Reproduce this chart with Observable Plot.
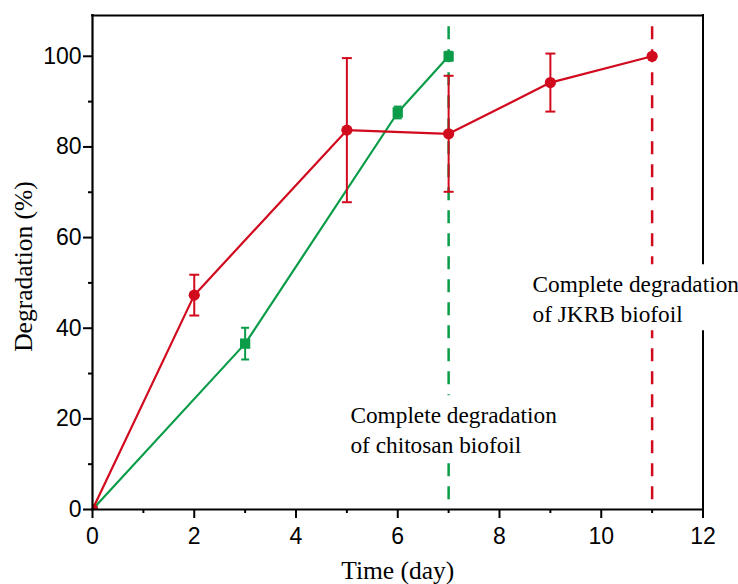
<!DOCTYPE html>
<html><head><meta charset="utf-8">
<script src="https://cdn.jsdelivr.net/npm/d3@7"></script>
<script src="https://cdn.jsdelivr.net/npm/@observablehq/plot@0.6"></script>
<style>body{margin:0;background:#fff}</style>
</head><body><div id="chart"></div>
<script>
// ---- data ----
const jkrbDays = [0, 2, 5, 7, 9, 11];
const jkrbValues = [0, 47.3, 83.7, 82.9, 94.2, 100];
const jkrbErrors = [0, 4.5, 15.9, 12.8, 6.4, 0];
const chitosanDays = [0, 3, 6, 7];
const chitosanValues = [0, 36.6, 87.6, 100];
const chitosanErrors = [0, 3.5, 1.3, 1.0];
const chitosanCompleteDay = [7];
const jkrbCompleteDay = [11];
const xTicks = [0, 2, 4, 6, 8, 10, 12];
const xMinorTicks = [1, 3, 5, 7, 9, 11];
const yTicks = [0, 20, 40, 60, 80, 100];
const yMinorTicks = [10, 30, 50, 70, 90];
const xLabel = "Time (day)";
const yLabel = "Degradation (%)";
const annotations = [
  {x: 5.07, y: 12.4, text: "Complete degradation\nof chitosan biofoil"},
  {x: 8.65, y: 41.3, text: "Complete degradation\nof JKRB biofoil"}
];

const RED = "#d20a1e", GREEN = "#0a9c48";
const jkrb = jkrbDays.map((d, i) => ({day: d, v: jkrbValues[i], e: jkrbErrors[i]}));
const chit = chitosanDays.map((d, i) => ({day: d, v: chitosanValues[i], e: chitosanErrors[i]}));

const capSymbol = {draw(ctx, size) { const w = Math.sqrt(size / Math.PI); ctx.moveTo(-w, 0); ctx.lineTo(w, 0); }};
const boxSymbol = {draw(ctx) { ctx.rect(-3, -58, 212, 66); }};

function series(data, color, symbol, r, capR) {
  const withErr = data.filter(d => d.e > 0);
  return [
    Plot.ruleX(withErr, {x: "day", y1: d => d.v - d.e, y2: d => d.v + d.e, stroke: color, strokeWidth: 2}),
    Plot.dot(withErr, {x: "day", y: d => d.v + d.e, symbol: capSymbol, r: capR, stroke: color, strokeWidth: 2}),
    Plot.dot(withErr, {x: "day", y: d => d.v - d.e, symbol: capSymbol, r: capR, stroke: color, strokeWidth: 2}),
    Plot.line(data, {x: "day", y: "v", stroke: color, strokeWidth: 2.2}),
    Plot.dot(data, {x: "day", y: "v", symbol, r, fill: color, stroke: "none", clip: true})
  ];
}

const SERIF = "Liberation Serif, Times New Roman, serif";
const SANS = "Liberation Sans, Arial, sans-serif";

const chart = Plot.plot({
  width: 738, height: 584,
  marginLeft: 92, marginRight: 35.5, marginTop: 15, marginBottom: 75,
  style: {background: "white", color: "black"},
  x: {domain: [0, 12], label: null},
  y: {domain: [0, 109], label: null},
  marks: [
    Plot.ruleX(chitosanCompleteDay, {x: d => d, y1: 106.5, y2: 0, stroke: GREEN, strokeWidth: 2.5, strokeDasharray: "13,10"}),
    Plot.ruleX(jkrbCompleteDay, {x: d => d, y1: 106.5, y2: 0, stroke: RED, strokeWidth: 2.5, strokeDasharray: "13,10"}),
    Plot.ruleY([109], {stroke: "black", strokeWidth: 2, strokeLinecap: "square"}),
    Plot.ruleX([12], {stroke: "black", strokeWidth: 2, strokeLinecap: "square"}),
    Plot.dot(annotations, {x: "x", y: "y", symbol: boxSymbol, fill: "white", stroke: "none"}),
    ...series(chit, GREEN, "square", 5.8, 4),
    ...series(jkrb, RED, "circle", 5.6, 5),
    Plot.ruleX([0], {stroke: "black", strokeWidth: 2.2, strokeLinecap: "square"}),
    Plot.ruleY([0], {stroke: "black", strokeWidth: 2.2, strokeLinecap: "square"}),
    Plot.axisY(yTicks, {tickSize: 9, tickPadding: 2, strokeWidth: 2, stroke: "black", fill: "black", fontSize: 23, fontFamily: SANS, label: null}),
    Plot.axisY(yMinorTicks, {tickSize: 4, strokeWidth: 2, stroke: "black", tickFormat: () => "", label: null}),
    Plot.axisX(xTicks, {tickSize: 9, tickPadding: 9, strokeWidth: 2, stroke: "black", fill: "black", fontSize: 23, fontFamily: SANS, label: null}),
    Plot.axisX(xMinorTicks, {tickSize: 4, strokeWidth: 2, stroke: "black", tickFormat: () => "", label: null}),
    Plot.text(annotations, {x: "x", y: "y", text: "text", textAnchor: "start", lineAnchor: "bottom", lineHeight: 1.32, fontSize: 23.3, fontFamily: SERIF, fill: "black"}),
    Plot.text([xLabel], {text: d => d, frameAnchor: "bottom", dy: 69, textAnchor: "middle", lineAnchor: "bottom", fontSize: 25.5, fontFamily: SERIF, fill: "black"}),
    Plot.text([yLabel], {text: d => d, frameAnchor: "left", dx: -79, dy: 4, rotate: -90, textAnchor: "middle", lineAnchor: "top", fontSize: 25.5, fontFamily: SERIF, fill: "black"})
  ]
});
document.getElementById("chart").appendChild(chart);
</script>
</body></html>
